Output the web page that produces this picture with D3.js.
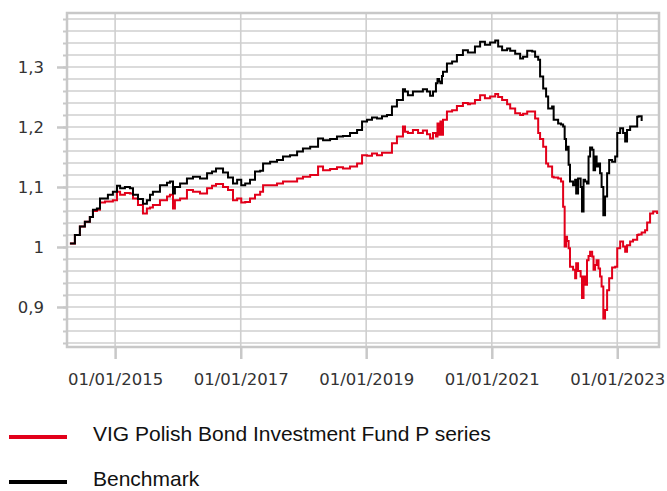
<!DOCTYPE html>
<html>
<head>
<meta charset="utf-8">
<script src="https://cdn.jsdelivr.net/npm/d3@7"></script>
<style>
  body { margin: 0; background: #fff; }
</style>
</head>
<body>
<div class="chart"></div>
<script>
// data
const dates = [
  "2014-04-13","2014-05-12","2014-06-10","2014-07-09","2014-08-07","2014-08-25","2014-09-17","2014-10-05","2014-11-03","2014-11-20","2014-12-19",
  "2015-01-12","2015-01-30","2015-02-27","2015-03-28","2015-04-15","2015-05-14","2015-06-12","2015-07-05","2015-07-23","2015-08-09","2015-09-19","2015-10-30","2015-11-16","2015-12-04","2015-12-15",
  "2016-01-14","2016-02-23","2016-03-29","2016-05-09","2016-06-19","2016-07-18","2016-08-10","2016-09-20","2016-10-19","2016-11-17","2016-12-11",
  "2017-01-04","2017-01-27","2017-02-24","2017-03-25","2017-04-24","2017-05-11","2017-06-21","2017-07-31","2017-09-04","2017-10-15","2017-11-25","2017-12-29",
  "2018-02-09","2018-03-27","2018-04-25","2018-06-05","2018-07-15","2018-08-19","2018-09-29","2018-11-09","2018-12-08",
  "2019-01-06","2019-02-04","2019-03-05","2019-04-03","2019-05-02","2019-05-31","2019-06-29","2019-08-03","2019-08-15","2019-09-01","2019-09-30","2019-10-30","2019-11-27","2019-12-21",
  "2020-01-08","2020-01-25","2020-02-11","2020-02-20","2020-02-29","2020-03-08","2020-03-17","2020-03-23","2020-04-15","2020-05-15","2020-06-12","2020-07-17","2020-08-15","2020-08-27","2020-09-25","2020-10-25","2020-11-22","2020-12-22",
  "2021-01-21","2021-02-07","2021-03-02","2021-03-31","2021-04-18","2021-05-17","2021-06-15","2021-07-02","2021-07-26","2021-08-24","2021-09-10","2021-09-28","2021-10-09","2021-10-27","2021-11-13","2021-11-25","2021-12-18","2021-12-27",
  "2022-01-22","2022-02-08","2022-02-20","2022-03-01","2022-03-09","2022-03-15","2022-03-24","2022-04-01","2022-04-19","2022-05-01","2022-05-07","2022-05-18","2022-06-02","2022-06-10","2022-06-19","2022-06-28","2022-07-09","2022-07-18","2022-07-27","2022-08-08","2022-08-16","2022-08-25","2022-09-03","2022-09-14","2022-09-23","2022-10-02","2022-10-12","2022-10-22","2022-11-03","2022-11-15","2022-12-02","2022-12-20",
  "2023-01-01","2023-01-18","2023-02-04","2023-02-16","2023-02-27","2023-03-17","2023-04-03","2023-04-27","2023-05-05","2023-05-23","2023-06-12","2023-06-24","2023-07-11","2023-07-29","2023-08-21"
];

const fund = [
  1.006,1.020,1.034,1.042,1.050,1.060,1.062,1.074,1.076,1.076,1.078,
  1.092,1.087,1.090,1.089,1.081,1.070,1.056,1.064,1.066,1.070,1.078,1.084,1.087,1.064,1.078,
  1.081,1.095,1.092,1.089,1.098,1.102,1.105,1.100,1.095,1.078,1.081,
  1.074,1.075,1.081,1.087,1.092,1.103,1.103,1.106,1.109,1.109,1.114,1.117,
  1.120,1.134,1.128,1.130,1.133,1.131,1.134,1.139,1.153,
  1.152,1.156,1.153,1.157,1.157,1.173,1.184,1.201,1.192,1.190,1.195,1.190,1.194,1.188,
  1.181,1.190,1.184,1.206,1.187,1.209,1.187,1.212,1.226,1.228,1.235,1.240,1.238,1.239,1.245,1.253,1.248,1.251,
  1.255,1.250,1.245,1.238,1.231,1.223,1.220,1.222,1.226,1.226,1.214,1.190,1.180,1.167,1.139,1.134,1.117,1.116,
  1.114,1.109,1.067,1.001,1.017,1.010,0.998,0.967,0.962,0.948,0.973,0.960,0.951,0.915,0.951,0.937,0.978,0.985,0.992,0.984,0.962,0.970,0.978,0.964,0.951,0.934,0.881,0.895,0.928,0.948,0.966,0.967,
  0.998,1.009,1.001,0.992,1.003,1.009,1.012,1.020,1.021,1.024,1.028,1.041,1.056,1.059,1.055
];

const benchmark = [
  1.006,1.020,1.034,1.042,1.050,1.062,1.064,1.081,1.081,1.087,1.092,
  1.102,1.098,1.100,1.098,1.087,1.080,1.072,1.078,1.087,1.092,1.103,1.107,1.109,1.089,1.100,
  1.106,1.114,1.117,1.114,1.123,1.126,1.131,1.124,1.116,1.106,1.112,
  1.103,1.106,1.112,1.126,1.127,1.139,1.142,1.145,1.151,1.153,1.159,1.164,
  1.167,1.181,1.178,1.180,1.184,1.185,1.190,1.195,1.209,
  1.212,1.216,1.214,1.218,1.220,1.234,1.245,1.263,1.259,1.253,1.259,1.259,1.263,1.259,
  1.252,1.259,1.273,1.280,1.276,1.273,1.285,1.292,1.306,1.309,1.320,1.328,1.324,1.324,1.334,1.342,1.337,1.341,
  1.344,1.334,1.328,1.331,1.327,1.322,1.314,1.317,1.327,1.326,1.317,1.312,1.284,1.264,1.251,1.231,1.234,1.212,
  1.206,1.204,1.201,1.180,1.162,1.167,1.137,1.109,1.103,1.112,1.089,1.114,1.100,1.059,1.112,1.109,1.106,1.151,1.166,1.162,1.128,1.151,1.134,1.139,1.123,1.100,1.053,1.084,1.123,1.145,1.142,1.151,
  1.190,1.198,1.190,1.176,1.195,1.201,1.201,1.217,1.218,1.210,null,null,null,null,null
];

const seriesNames = ["VIG Polish Bond Investment Fund P series", "Benchmark"];
const seriesColors = ["#e2001a", "#000000"];
const yTicks = [0.9, 1, 1.1, 1.2, 1.3];
const xTicks = ["2015-01-01", "2017-01-01", "2019-01-01", "2021-01-01", "2023-01-01"];
const xDomain = ["2014-03-27", "2023-09-01"];
const yDomain = [0.8333, 1.39];

const parse = d3.timeParse("%Y-%m-%d");
const m = { left: 67, right: 659, top: 13, bottom: 347 };

const svg = d3.select(".chart").append("svg")
  .attr("width", 667)
  .attr("height", 491);

const x = d3.scaleTime().domain(xDomain.map(parse)).range([m.left, m.right]);
const y = d3.scaleLinear().domain(yDomain).range([m.bottom, m.top]);

const grey = "#cfcfcf";

// horizontal grid every 0.02
const minor = d3.range(42, 70).map(i => i / 50);
svg.append("g").selectAll("line").data(minor).join("line")
  .attr("x1", m.left).attr("x2", m.right)
  .attr("y1", d => y(d)).attr("y2", d => y(d))
  .attr("stroke", grey).attr("stroke-width", 1.6);

// vertical grid
svg.append("g").selectAll("line").data(xTicks.map(parse)).join("line")
  .attr("x1", d => x(d)).attr("x2", d => x(d))
  .attr("y1", m.top).attr("y2", m.bottom)
  .attr("stroke", grey).attr("stroke-width", 1.6);

// frame
svg.append("rect")
  .attr("x", m.left).attr("y", m.top)
  .attr("width", m.right - m.left).attr("height", m.bottom - m.top)
  .attr("fill", "none").attr("stroke", "#c8c8c8").attr("stroke-width", 2.5);

// minor y ticks
const yMinor = svg.append("g").attr("transform", `translate(${m.left},0)`)
  .call(d3.axisLeft(y).tickValues(minor).tickSize(4).tickFormat(""));
yMinor.select(".domain").remove();
yMinor.selectAll("line").attr("stroke", "#c8c8c8").attr("stroke-width", 2);

// y axis
const yAxis = svg.append("g").attr("transform", `translate(${m.left},0)`)
  .call(d3.axisLeft(y).tickValues(yTicks).tickSize(10).tickPadding(13)
    .tickFormat(d => d3.format("~g")(d).replace(".", ",")));
yAxis.select(".domain").remove();
yAxis.selectAll("line").attr("stroke", "#c8c8c8").attr("stroke-width", 2.5);
yAxis.selectAll("text")
  .attr("font-family", "'DejaVu Sans', Verdana, sans-serif")
  .attr("font-size", "16.5px").attr("fill", "#333");

// x axis
const xAxis = svg.append("g").attr("transform", `translate(0,${m.bottom})`)
  .call(d3.axisBottom(x).tickValues(xTicks.map(parse)).tickSize(12).tickPadding(14)
    .tickFormat(d3.timeFormat("%d/%m/%Y")));
xAxis.select(".domain").remove();
xAxis.selectAll("line").attr("stroke", "#c8c8c8").attr("stroke-width", 2.5);
xAxis.selectAll("text")
  .attr("font-family", "'DejaVu Sans', Verdana, sans-serif")
  .attr("font-size", "16.5px").attr("fill", "#333");

// lines
const rows = dates.map((d, i) => ({ date: parse(d), fund: fund[i], benchmark: benchmark[i] }));
const keys = ["fund", "benchmark"];

keys.forEach((k, i) => {
  const line = d3.line()
    .defined(d => d[k] != null)
    .curve(d3.curveStepAfter)
    .x(d => x(d.date))
    .y(d => y(d[k]));
  svg.append("path")
    .datum(rows)
    .attr("fill", "none")
    .attr("stroke", seriesColors[i])
    .attr("stroke-width", 2)
    .attr("d", line);
});

// legend
const legend = svg.append("g");
const legendY = [437, 482];
seriesNames.forEach((name, i) => {
  legend.append("line")
    .attr("x1", 9).attr("x2", 67)
    .attr("y1", legendY[i]).attr("y2", legendY[i])
    .attr("stroke", seriesColors[i]).attr("stroke-width", 4);
  legend.append("text")
    .attr("x", 93).attr("y", legendY[i] + 4)
    .attr("font-family", "'Liberation Sans', Arial, sans-serif")
    .attr("font-size", "21px").attr("fill", "#111")
    .text(name);
});
</script>
</body>
</html>
